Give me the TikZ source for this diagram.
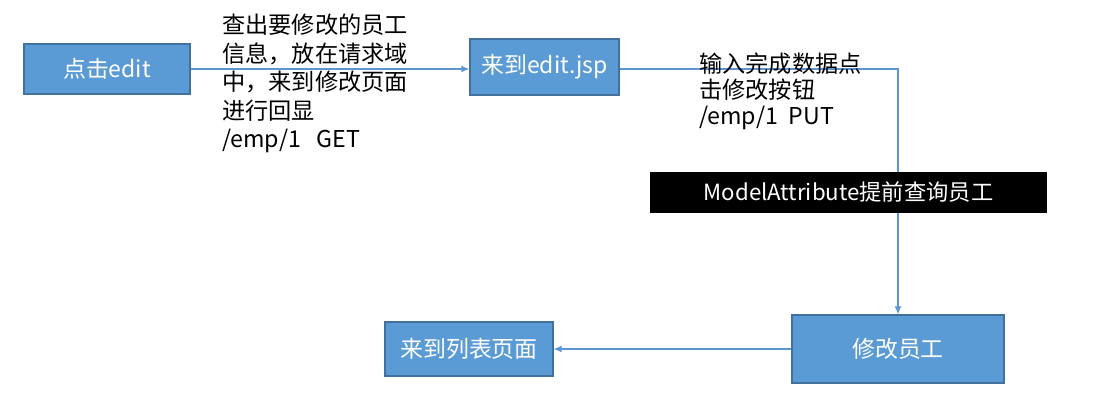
\documentclass[tikz,border=0pt]{standalone}
\usepackage{fontspec}
\setmainfont{Noto Sans CJK SC}
\usetikzlibrary{arrows.meta}
\definecolor{boxblue}{RGB}{91,155,213}
\definecolor{boxline}{RGB}{65,113,156}
\definecolor{linkblue}{RGB}{91,150,210}
\tikzset{
  stepbox/.style={draw=boxline, line width=0.9pt, fill=boxblue, text=white, font=\fontsize{17.2}{20}\selectfont, inner sep=0pt},
  link/.style={draw=linkblue, line width=0.9pt, -{Latex[length=6pt,width=5pt]}},
  note/.style={anchor=north west, inner sep=0.75pt, align=left}
}

\begin{document}
\begin{tikzpicture}[x=0.75pt,y=0.75pt,yscale=-1,xscale=1]
    \useasboundingbox (0,0) rectangle (1095,402);
    
    %Shape: Rectangle [id:edit] 
    \node [stepbox, minimum width=124.5pt, minimum height=37.5pt] (edit) at (107,69) {点击edit};
    %Shape: Rectangle [id:editjsp] 
    \node [stepbox, minimum width=111.75pt, minimum height=42pt] (editjsp) at (544.5,67) {来到edit.jsp};
    %Shape: Rectangle [id:modify] 
    \node [stepbox, minimum width=159pt, minimum height=51pt] (modify) at (898,349) {修改员工};
    %Shape: Rectangle [id:list] 
    \node [stepbox, minimum width=126pt, minimum height=40.5pt] (list) at (469,349) {来到列表页面};
    
    %Straight Lines [id:get] 
    \draw [link] (edit.east |- 0,69) -- (editjsp.west |- 0,69);
    %Elbow Lines [id:put] 
    \draw [link] (editjsp.east |- 0,69) -| (modify.north);
    %Straight Lines [id:back] 
    \draw [link] (modify.west) -- (list.east);
    
    %Shape: Rectangle [id:modelattr] 
    \node [fill=black, text=white, inner sep=0pt, minimum width=297.75pt, minimum height=30.75pt, font=\fontsize{16.7}{19}\selectfont] (modelattr) at (848.5,192.5) {ModelAttribute提前查询员工};
    
    % Text Node
    \node [note, font=\fontsize{17.4}{21.4}\selectfont] (gettext) at (221,13) {查出要修改的员工\\信息，放在请求域\\中，来到修改页面\\进行回显\\/emp/1\ \ \ GET};
    % Text Node
    \node [note, font=\fontsize{17.4}{19.5}\selectfont] (puttext) at (698,52) {输入完成数据点\\击修改按钮\\/emp/1\ \ PUT};
    
\end{tikzpicture}
\end{document}
